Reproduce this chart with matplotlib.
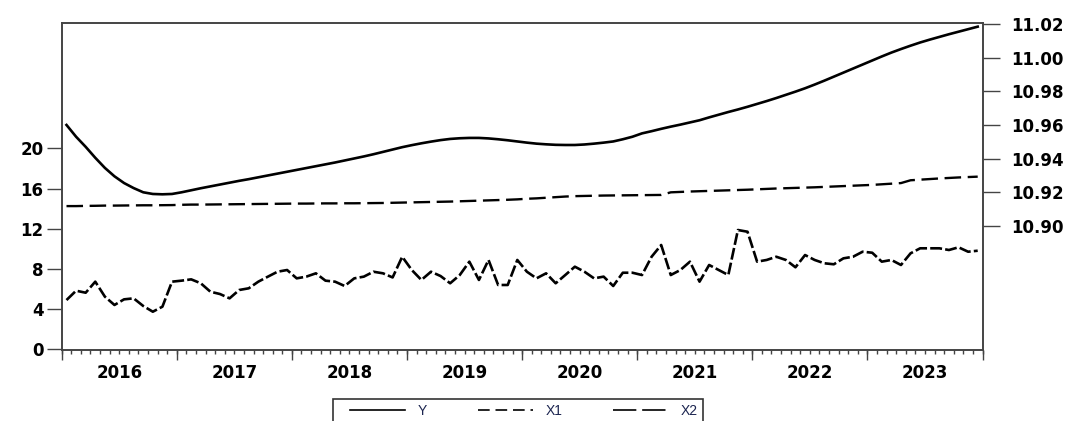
import numpy as np
import pandas as pd
import matplotlib
matplotlib.use("Agg")
import matplotlib.pyplot as plt
from matplotlib.lines import Line2D
from matplotlib.ticker import MultipleLocator

# ---------------- data (monthly, 2016M01 - 2023M12) ----------------
periods = pd.period_range("2016-01", "2023-12", freq="M")

Y = [10.9600, 10.9530, 10.9470, 10.9405, 10.9345, 10.9295, 10.9255, 10.9225,
     10.9200, 10.9190, 10.9188, 10.9190, 10.9200, 10.9212, 10.9224, 10.9235,
     10.9246, 10.9257, 10.9268, 10.9278, 10.9289, 10.9300, 10.9311, 10.9322,
     10.9333, 10.9344, 10.9355, 10.9366, 10.9377, 10.9389, 10.9401, 10.9413,
     10.9426, 10.9440, 10.9454, 10.9468, 10.9480, 10.9491, 10.9501, 10.9510,
     10.9517, 10.9521, 10.9523, 10.9523, 10.9520, 10.9515, 10.9509, 10.9502,
     10.9495, 10.9489, 10.9485, 10.9482, 10.9481, 10.9481, 10.9484, 10.9489,
     10.9495, 10.9502, 10.9515, 10.9530, 10.9550, 10.9563, 10.9577, 10.9590,
     10.9602, 10.9615, 10.9628, 10.9645, 10.9661, 10.9677, 10.9692, 10.9708,
     10.9725, 10.9742, 10.9760, 10.9779, 10.9798, 10.9818, 10.9840, 10.9863,
     10.9887, 10.9911, 10.9935, 10.9959, 10.9983, 11.0007, 11.0030, 11.0051,
     11.0071, 11.0090, 11.0107, 11.0123, 11.0139, 11.0154, 11.0169, 11.0184]

X1 = [14.25, 14.25, 14.27, 14.28, 14.30, 14.30, 14.31, 14.32, 14.33, 14.33, 14.34, 14.35,
      14.38, 14.40, 14.40, 14.41, 14.42, 14.43, 14.44, 14.45, 14.46, 14.47, 14.48, 14.49,
      14.50, 14.50, 14.51, 14.52, 14.52, 14.53, 14.53, 14.54, 14.55, 14.56, 14.58, 14.60,
      14.62, 14.64, 14.66, 14.68, 14.70, 14.73, 14.76, 14.79, 14.82, 14.85, 14.88, 14.92,
      14.98, 15.02, 15.08, 15.14, 15.20, 15.24, 15.26, 15.28, 15.30, 15.31, 15.32, 15.33,
      15.34, 15.35, 15.36, 15.62, 15.66, 15.70, 15.73, 15.76, 15.79, 15.82, 15.85, 15.88,
      15.92, 15.96, 16.00, 16.03, 16.06, 16.09, 16.12, 16.16, 16.20, 16.24, 16.28, 16.32,
      16.36, 16.42, 16.48, 16.54, 16.82, 16.88, 16.94, 17.00, 17.05, 17.10, 17.14, 17.18]

X2 = [4.90, 5.83, 5.63, 6.73, 5.24, 4.41, 4.97, 5.07, 4.31, 3.74, 4.24, 6.73,
      6.83, 6.96, 6.57, 5.73, 5.50, 5.07, 5.90, 6.07, 6.73, 7.23, 7.72, 7.89,
      7.06, 7.23, 7.56, 6.83, 6.73, 6.30, 7.06, 7.23, 7.72, 7.56, 7.15, 9.21,
      7.89, 6.90, 7.72, 7.29, 6.57, 7.39, 8.72, 6.90, 8.89, 6.40, 6.40, 8.89,
      7.72, 7.06, 7.56, 6.57, 7.39, 8.22, 7.72, 7.06, 7.23, 6.30, 7.62, 7.62,
      7.39, 9.21, 10.38, 7.39, 7.89, 8.72, 6.73, 8.39, 7.89, 7.39, 11.87, 11.70,
      8.72, 8.89, 9.21, 8.89, 8.16, 9.38, 8.89, 8.56, 8.46, 9.05, 9.21, 9.71,
      9.61, 8.72, 8.89, 8.39, 9.55, 10.05, 10.05, 10.05, 9.88, 10.15, 9.71, 9.81]

years = [2016, 2017, 2018, 2019, 2020, 2021, 2022, 2023]
left_ticks = [0, 4, 8, 12, 16, 20]
right_ticks = [10.90, 10.92, 10.94, 10.96, 10.98, 11.00, 11.02]
legend_labels = ["Y", "X1", "X2"]

# x position of each observation: middle of its month
x = np.array([p.year + (p.month - 0.5) / 12 for p in periods])

# ---------------- figure ----------------
W, H = 1069, 421
fig = plt.figure(figsize=(W / 100, H / 100), dpi=100)
ax = fig.add_axes([61.7 / W, 1 - 350 / H, (982.5 - 61.7) / W, (350 - 23.3) / H])
ax2 = ax.twinx()

tick_font = dict(family="DejaVu Sans", weight="bold", size=12)
frame_col = "#444444"

ax.plot(x, X1, color="black", lw=1.7, dashes=(7, 2.8))
ax.plot(x, X2, color="black", lw=1.9, dashes=(4.5, 1.2))
ax2.plot(x, Y, color="black", lw=1.9)

ax.set_xlim(2016, 2024)
ax.set_ylim(-0.07, 32.44)
ax2.set_ylim(10.8263, 11.0204)

# left axis
ax.set_yticks(left_ticks)
ax.set_yticklabels([str(t) for t in left_ticks], fontdict=tick_font)
ax.tick_params(axis="y", direction="out", length=11, width=1, color=frame_col, pad=2)

# right axis
ax2.set_yticks(right_ticks)
ax2.set_yticklabels([f"{t:.2f}" for t in right_ticks], fontdict=tick_font)
ax2.tick_params(axis="y", direction="out", length=12, width=1, color=frame_col, pad=9)

# x axis: labels centred in each year, monthly minor ticks, year-boundary ticks
ax.xaxis.remove_overlapping_locs = False
ax.set_xticks([yr + 0.5 for yr in years])
ax.set_xticklabels([str(yr) for yr in years], fontdict=tick_font)
ax.tick_params(axis="x", which="major", length=0, pad=10)
ax.xaxis.set_minor_locator(MultipleLocator(1 / 12))
ax.tick_params(axis="x", which="minor", direction="out", length=3, width=1, color=frame_col)

sec = ax.secondary_xaxis("bottom")
sec.set_xticks(years + [2024])
sec.set_xticklabels([])
sec.tick_params(axis="x", direction="out", length=7, width=1, color=frame_col)
sec.spines["bottom"].set_visible(False)

for a in (ax, ax2):
    for s in a.spines.values():
        s.set_color(frame_col)
        s.set_linewidth(1.2)

# legend (bottom, partly cut by figure edge as in the reference)
handles = [Line2D([], [], color="black", lw=1.2),
           Line2D([], [], color="black", lw=1.2, dashes=(7, 3.5)),
           Line2D([], [], color="black", lw=1.2, dashes=(14, 3.5))]
leg = fig.legend(handles, legend_labels, loc="upper left",
                 bbox_to_anchor=(345 / W, 0, 358 / W, 1 - 399.3 / H),
                 mode="expand", borderaxespad=0, ncol=3,
                 prop=dict(family="Liberation Sans", size=10),
                 handlelength=4.0, handletextpad=0.9, columnspacing=2.4,
                 frameon=False, borderpad=0.35)
for t in leg.get_texts():
    t.set_color("#1c2550")

# legend frame drawn to the reference's extent
fig.patches.append(plt.Rectangle((333 / W, -0.05), 370 / W, 0.05 + 1 - 399.3 / H,
                                 transform=fig.transFigure, fill=False,
                                 edgecolor="#333333", lw=1.2))

fig.savefig("out.png", dpi=100)
